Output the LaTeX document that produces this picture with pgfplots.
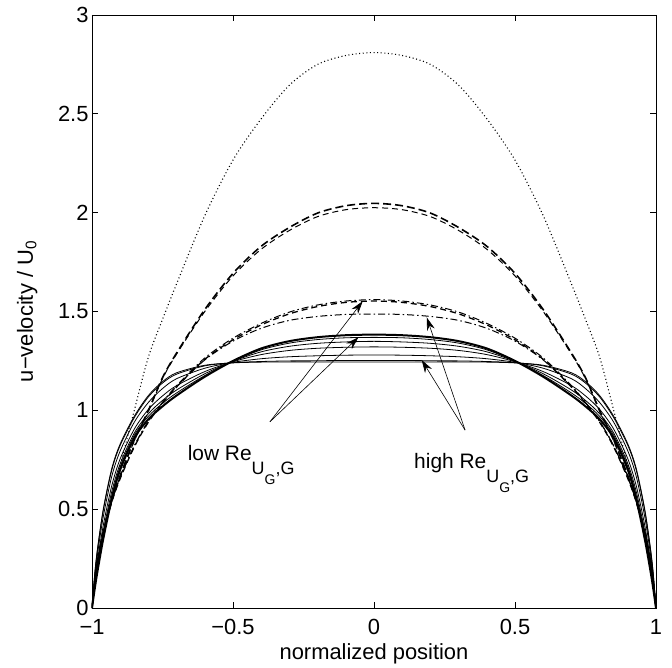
\documentclass[border=0pt]{standalone}
\usepackage{fontspec}
\setmainfont{Liberation Sans}
\usepackage{pgfplots}
\pgfplotsset{compat=1.18}
\usepackage{pgfplotstable}
\usetikzlibrary{arrows.meta}

\pgfplotstableread{
x     dot   dA    dB    ddA   ddB   ddC   s1    s2    s3    s4    s5    s6    s7
-1    0     0     0     0     0     0     0     0     0     0     0     0     0
-0.99 0.130 0.130 0.125 0.130 0.125 0.130 0.100 0.108 0.120 0.135 0.158 0.174 0.178
-0.98 0.240 0.240 0.235 0.240 0.235 0.240 0.190 0.202 0.219 0.242 0.276 0.300 0.305
-0.96 0.390 0.385 0.380 0.380 0.375 0.380 0.350 0.366 0.388 0.418 0.462 0.493 0.500
-0.93 0.560 0.545 0.540 0.540 0.535 0.540 0.550 0.567 0.588 0.618 0.665 0.697 0.705
-0.90 0.720 0.670 0.665 0.660 0.655 0.660 0.700 0.715 0.730 0.755 0.795 0.823 0.830
-0.85 1.000 0.850 0.845 0.820 0.815 0.820 0.860 0.874 0.885 0.905 0.940 0.963 0.970
-0.80 1.270 1.000 0.995 0.945 0.940 0.945 0.955 0.970 0.983 1.005 1.040 1.068 1.075
-0.75 1.460 1.165 1.160 1.040 1.035 1.040 1.020 1.035 1.050 1.073 1.110 1.138 1.145
-0.70 1.640 1.290 1.285 1.125 1.118 1.120 1.075 1.088 1.103 1.125 1.160 1.183 1.190
-0.60 1.985 1.510 1.500 1.265 1.258 1.255 1.170 1.176 1.185 1.196 1.213 1.225 1.228
-0.50 2.266 1.693 1.680 1.365 1.357 1.350 1.250 1.249 1.248 1.246 1.243 1.241 1.240
-0.40 2.475 1.830 1.815 1.440 1.432 1.415 1.313 1.306 1.296 1.282 1.261 1.247 1.244
-0.30 2.645 1.925 1.910 1.497 1.488 1.455 1.350 1.340 1.324 1.303 1.271 1.250 1.245
-0.20 2.750 1.998 1.980 1.533 1.525 1.475 1.370 1.358 1.339 1.314 1.276 1.251 1.245
-0.10 2.795 2.035 2.015 1.553 1.546 1.485 1.380 1.367 1.346 1.319 1.279 1.252 1.245
 0.00 2.810 2.047 2.025 1.560 1.553 1.487 1.383 1.369 1.349 1.321 1.280 1.252 1.245
 0.10 2.795 2.035 2.015 1.553 1.546 1.485 1.380 1.367 1.346 1.319 1.279 1.252 1.245
 0.20 2.750 1.998 1.980 1.533 1.525 1.475 1.370 1.358 1.339 1.314 1.276 1.251 1.245
 0.30 2.645 1.925 1.910 1.497 1.488 1.455 1.350 1.340 1.324 1.303 1.271 1.250 1.245
 0.40 2.475 1.830 1.815 1.440 1.432 1.415 1.313 1.306 1.296 1.282 1.261 1.247 1.244
 0.50 2.266 1.693 1.680 1.365 1.357 1.350 1.250 1.249 1.248 1.246 1.243 1.241 1.240
 0.60 1.985 1.510 1.500 1.265 1.258 1.255 1.170 1.176 1.185 1.196 1.213 1.225 1.228
 0.70 1.640 1.290 1.285 1.125 1.118 1.120 1.075 1.088 1.103 1.125 1.160 1.183 1.190
 0.75 1.460 1.165 1.160 1.040 1.035 1.040 1.020 1.035 1.050 1.073 1.110 1.138 1.145
 0.80 1.270 1.000 0.995 0.945 0.940 0.945 0.955 0.970 0.983 1.005 1.040 1.068 1.075
 0.85 1.000 0.850 0.845 0.820 0.815 0.820 0.860 0.874 0.885 0.905 0.940 0.963 0.970
 0.90 0.720 0.670 0.665 0.660 0.655 0.660 0.700 0.715 0.730 0.755 0.795 0.823 0.830
 0.93 0.560 0.545 0.540 0.540 0.535 0.540 0.550 0.567 0.588 0.618 0.665 0.697 0.705
 0.96 0.390 0.385 0.380 0.380 0.375 0.380 0.350 0.366 0.388 0.418 0.462 0.493 0.500
 0.98 0.240 0.240 0.235 0.240 0.235 0.240 0.190 0.202 0.219 0.242 0.276 0.300 0.305
 0.99 0.130 0.130 0.125 0.130 0.125 0.130 0.100 0.108 0.120 0.135 0.158 0.174 0.178
 1    0     0     0     0     0     0     0     0     0     0     0     0     0
}\profiles

\begin{document}
\begin{tikzpicture}[font=\fontsize{22}{26}\selectfont]
\begin{axis}[
  scale only axis, width=564bp, height=593bp,
  xmin=-1, xmax=1, ymin=0, ymax=3,
  xtick={-1,-0.5,0,0.5,1}, xticklabels={−1,−0.5,0,0.5,1},
  ytick={0,0.5,1,1.5,2,2.5,3}, yticklabels={0,0.5,1,1.5,2,2.5,3},
  xticklabel style={yshift=-8bp},
  minor tick num=0,
  tick align=inside, tick pos=both, major tick length=6bp,
  axis line style={line width=0.8bp},
  every tick/.style={black, line width=0.8bp},
  xlabel={normalized position},
  ylabel={u−velocity / U\textsubscript{0}},
  xlabel style={at={(axis description cs:0.5,0)}, anchor=north, inner sep=0pt, yshift=-35bp},
  ylabel style={at={(axis description cs:-0.115,0.5)}, anchor=center},
]
\addplot[black, smooth, dash pattern=on 1bp off 2.6bp, line width=1.1bp] table[x=x,y=dot]{\profiles};
\addplot[black, smooth, dash pattern=on 8bp off 4bp, line width=1.6bp] table[x=x,y=dA]{\profiles};
\addplot[black, smooth, dash pattern=on 6bp off 4bp, dash phase=4bp, line width=1bp] table[x=x,y=dB]{\profiles};
\addplot[black, smooth, dash pattern=on 7bp off 3bp on 1.5bp off 3bp, line width=1bp] table[x=x,y=ddA]{\profiles};
\addplot[black, smooth, dash pattern=on 6bp off 4bp, line width=1.3bp] table[x=x,y=ddB]{\profiles};
\addplot[black, smooth, dash pattern=on 7bp off 3bp on 1.5bp off 3bp, line width=1bp] table[x=x,y=ddC]{\profiles};
\addplot[black, smooth, solid, line width=2bp] table[x=x,y=s1]{\profiles};
\addplot[black, smooth, solid, line width=0.8bp] table[x=x,y=s2]{\profiles};
\addplot[black, smooth, solid, line width=0.8bp] table[x=x,y=s3]{\profiles};
\addplot[black, smooth, solid, line width=0.8bp] table[x=x,y=s4]{\profiles};
\addplot[black, smooth, solid, line width=0.8bp] table[x=x,y=s5]{\profiles};
\addplot[black, smooth, solid, line width=0.8bp] table[x=x,y=s6]{\profiles};
\addplot[black, smooth, solid, line width=0.8bp] table[x=x,y=s7]{\profiles};

\draw[line width=0.6bp, -{Stealth[length=13bp,width=8bp]}] (axis cs:-0.369,0.942) -- (axis cs:-0.040,1.552);
\draw[line width=0.6bp, -{Stealth[length=13bp,width=8bp]}] (axis cs:-0.369,0.942) -- (axis cs:-0.055,1.370);
\draw[line width=0.6bp, -{Stealth[length=13bp,width=8bp]}] (axis cs:0.323,0.900) -- (axis cs:0.187,1.470);
\draw[line width=0.6bp, -{Stealth[length=13bp,width=8bp]}] (axis cs:0.323,0.900) -- (axis cs:0.169,1.255);
\node[anchor=base west, inner sep=0pt, font=\fontsize{21}{25}\selectfont] at (axis cs:-0.661,0.744)
  {low Re\raisebox{-14bp}{\fontsize{18}{18}\selectfont U\raisebox{-10bp}{\fontsize{14}{14}\selectfont G},G}};
\node[anchor=base west, inner sep=0pt, font=\fontsize{21}{25}\selectfont] at (axis cs:0.142,0.708)
  {high Re\raisebox{-14bp}{\fontsize{18}{18}\selectfont U\raisebox{-10bp}{\fontsize{14}{14}\selectfont G},G}};
\end{axis}
\pgfresetboundingbox
\path[use as bounding box] (-92bp,-60bp) rectangle (580bp,608bp);
\end{tikzpicture}
\end{document}
